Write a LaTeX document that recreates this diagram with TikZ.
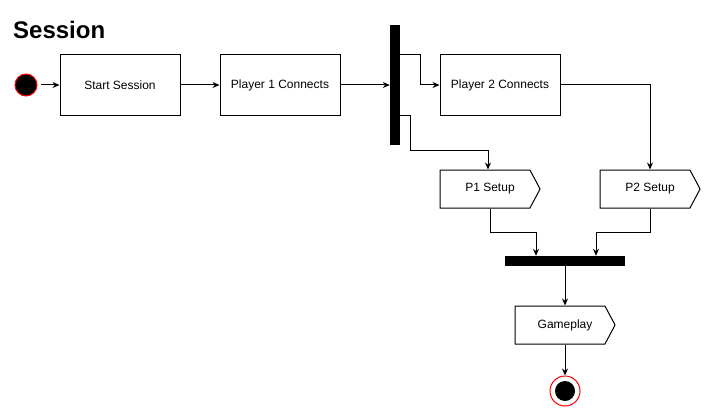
\documentclass[tikz,border=0pt]{standalone}
\usepackage{fontspec}
\setmainfont{Liberation Sans}
\usetikzlibrary{arrows.meta, positioning, calc, shapes.symbols}

\begin{document}
\begin{tikzpicture}[
    x=1pt, y=-1pt,
    >={Stealth[length=7pt, width=6pt]},
    action/.style={
        rectangle, draw, line width=1pt, minimum width=120pt, minimum height=60pt,
        font=\fontsize{12}{14}\selectfont, inner sep=0pt
    },
    setupbox/.style={
        signal, signal to=east, signal pointer angle=124, draw, line width=1pt,
        minimum width=100pt, minimum height=38pt, xshift=-5pt,
        execute at begin node={\hspace*{10pt}},
        font=\fontsize{12}{14}\selectfont, inner sep=0pt
    },
    syncbar/.style={rectangle, fill=black, inner sep=0pt},
    startst/.style={circle, fill=black, draw=red, line width=1pt, minimum size=22pt, inner sep=0pt},
    arr/.style={draw, line width=1pt, ->},
]
\useasboundingbox (0,0) rectangle (711,417);

% ================================================================
%  TITLE
% ================================================================
\node[anchor=base west, inner sep=0pt, font=\fontsize{24}{28}\selectfont\bfseries] (title) at (13,39) {Session};

% ================================================================
%  TOP ROW: START AND CONNECTIONS
% ================================================================
\node[startst] (start) at (26,85) {};
\node[action]  (sess)  at (120,85) {Start Session};
\node[action]  (p1con) at (280,85) {Player 1 Connects};
\node[syncbar, minimum width=10pt, minimum height=120pt] (fork) at (395,85) {};
\node[action]  (p2con) at (500,85) {Player 2 Connects};

\draw[arr, shorten <=3pt] (start) -- (sess);
\draw[arr] (sess) -- (p1con);
\draw[arr] (p1con) -- (fork);

% fork -> player 2
\draw[arr] (fork.east |- p2con.north) -- ++(20,0) |- (p2con.west);

% ================================================================
%  SETUP AND JOIN
% ================================================================
\node[setupbox] (p1set) at (490,189) {P1 Setup};
\node[setupbox] (p2set) at (650,189) {P2 Setup};
\node[syncbar, minimum width=120pt, minimum height=10pt] (join) at (565,261) {};

% fork -> P1 Setup
\draw[arr] (fork.east |- p2con.south) -- ++(10,0) -- ++(0,35) -| ($(p1set.north)+(3,0)$);
% player 2 -> P2 Setup
\draw[arr] (p2con.east) -| ($(p2set.north)+(5,0)$);

% --- setups into the join bar ---
\draw[arr] ($(p1set.south)+(5,0)$) -- ++(0,24) -| ($(join.north)+(-29,0)$);
\draw[arr] ($(p2set.south)+(5,0)$) -- ++(0,24) -| ($(join.north)+(31,0)$);

% ================================================================
%  GAMEPLAY AND END
% ================================================================
\node[setupbox] (game) at (565,325) {Gameplay};
\node[circle, draw=red, fill=white, line width=1pt, minimum size=30pt, inner sep=0pt] (endst) at (565,391) {};
\node[circle, fill=black, minimum size=20pt, inner sep=0pt] (endin) at (endst) {};

\draw[arr] (join.south) -- (game.north -| join.south);
\draw[arr] (game.south -| endst.north) -- (endst.north);

\end{tikzpicture}
\end{document}
